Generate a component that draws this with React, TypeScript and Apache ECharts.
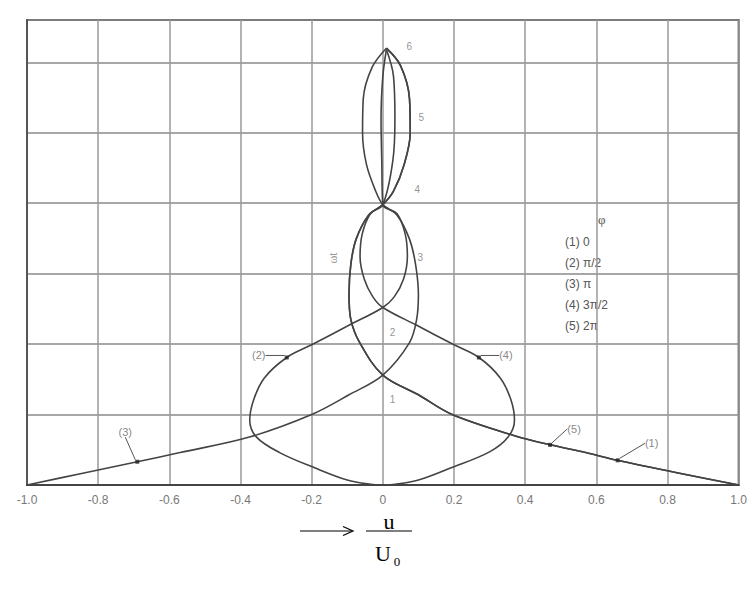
import React, { useEffect, useRef } from "react";
import * as echarts from "echarts";

// Phase curves in (u/U0, ωt) coordinates.
// φ = 0 (identical to φ = 2π)
const phi0: [number, number][] = [
  [0.01, 6.2], [0.05, 5.95], [0.075, 5.48], [0.077, 5.0], [0.06, 4.55], [0.03, 4.17],
  [0.0, 3.98], [-0.04, 3.83], [-0.075, 3.49], [-0.09, 3.13], [-0.095, 2.7], [-0.09, 2.35],
  [-0.065, 2.02], [0.0, 1.56], [0.1, 1.28], [0.195, 1.0], [0.37, 0.7], [0.47, 0.57],
  [0.57, 0.46], [0.66, 0.35], [0.83, 0.17], [1.0, 0.0],
];
// φ = π/2
const phiHalfPi: [number, number][] = [
  [0.01, 6.18], [0.0, 5.8], [-0.005, 5.2], [-0.003, 4.6], [0.0, 3.98], [0.04, 3.85],
  [0.063, 3.56], [0.069, 3.24], [0.058, 2.92], [0.032, 2.67], [0.0, 2.52], [-0.094, 2.27],
  [-0.2, 1.99], [-0.27, 1.81], [-0.333, 1.52], [-0.363, 1.21], [-0.374, 0.92], [-0.355, 0.68],
  [-0.29, 0.46], [-0.19, 0.24], [-0.1, 0.07], [-0.035, 0.01], [0.0, 0.0],
];
// φ = π
const phiPi: [number, number][] = [
  [0.01, 6.2], [-0.03, 5.93], [-0.055, 5.48], [-0.057, 5.0], [-0.046, 4.55], [-0.02, 4.17],
  [0.0, 3.98], [0.04, 3.83], [0.075, 3.49], [0.092, 3.13], [0.1, 2.7], [0.095, 2.35],
  [0.075, 2.02], [0.0, 1.56], [-0.095, 1.28], [-0.2, 1.0], [-0.375, 0.68], [-0.57, 0.46],
  [-0.69, 0.33], [-0.85, 0.16], [-1.0, 0.0],
];
// φ = 3π/2
const phi3HalfPi: [number, number][] = [
  [0.01, 6.18], [0.03, 5.8], [0.034, 5.2], [0.028, 4.6], [0.0, 3.98], [-0.035, 3.85],
  [-0.058, 3.56], [-0.064, 3.24], [-0.052, 2.92], [-0.028, 2.67], [0.0, 2.52], [0.094, 2.27],
  [0.2, 1.99], [0.27, 1.81], [0.33, 1.52], [0.36, 1.21], [0.37, 0.92], [0.352, 0.68],
  [0.3, 0.47], [0.19, 0.24], [0.1, 0.07], [0.035, 0.01], [0.0, 0.0],
];
// φ = 2π
const phi2Pi: [number, number][] = phi0;

// Curve tags and the points they mark
const curveTags = ["(3)", "(2)", "(4)", "(5)", "(1)"];
const tagPoints: [number, number][] = [
  [-0.69, 0.33], [-0.27, 1.81], [0.27, 1.81], [0.47, 0.57], [0.66, 0.35],
];

// Step numbers along the central axis
const stepLabels = ["1", "2", "3", "4", "5", "6"];
const stepPoints: [number, number][] = [
  [0.027, 1.21], [0.027, 2.16], [0.105, 3.23], [0.097, 4.2], [0.108, 5.22], [0.074, 6.22],
];

// Phase legend
const legendTitle = "φ";
const legendRows = ["(1) 0", "(2) π/2", "(3) π", "(4) 3π/2", "(5) 2π"];

// Label offsets (px) for the curve tags
const tagOffsets: [number, number][] = [[-12, -30], [-28, -2], [27, -2], [24, -16], [34, -17]];

const curveColor = "#444";

export default function App() {
  const ref = useRef<HTMLDivElement>(null);

  useEffect(() => {
    if (!ref.current) return;
    const chart = echarts.init(ref.current, undefined, { renderer: "svg" });

    const lineSeries = (name: string, data: [number, number][]) => ({
      name,
      type: "line",
      data,
      showSymbol: false,
      smooth: 0.35,
      lineStyle: { color: curveColor, width: 1.6 },
      z: 3,
    });

    const graphic: any[] = [];
    graphic.push({
      type: "text",
      left: 598,
      top: 213,
      style: { text: legendTitle, font: '13px "Liberation Serif"', fill: "#555" },
    });
    legendRows.forEach((t, i) => {
      graphic.push({
        type: "text",
        left: 565,
        top: 236 + i * 21,
        style: { text: t, font: '12px "Liberation Sans"', fill: "#555" },
      });
    });
    graphic.push({
      type: "text",
      x: 333,
      y: 258,
      rotation: Math.PI / 2,
      style: {
        text: "ωt",
        font: '12px "Liberation Serif"',
        fill: "#999",
        align: "center",
        verticalAlign: "middle",
      },
    });
    // Axis title: ⟶ u / U0
    graphic.push(
      { type: "line", shape: { x1: 300, y1: 531, x2: 352, y2: 531 }, style: { stroke: "#000", lineWidth: 1.2 } },
      { type: "polyline", shape: { points: [[343, 526.5], [353, 531], [343, 535.5]] }, style: { stroke: "#000", lineWidth: 1.2, fill: null } },
      {
        type: "text",
        x: 389,
        y: 528,
        style: {
          text: "u",
          font: '22px "Liberation Serif"',
          lineHeight: 14,
          fill: "#000",
          align: "center",
          verticalAlign: "bottom",
        },
      },
      { type: "line", shape: { x1: 366, y1: 531, x2: 412, y2: 531 }, style: { stroke: "#000", lineWidth: 1.2 } },
      {
        type: "text",
        x: 383,
        y: 553,
        style: { text: "U", font: '22px "Liberation Serif"', fill: "#000", align: "center", verticalAlign: "middle" },
      },
      {
        type: "text",
        x: 397,
        y: 561,
        style: { text: "0", font: '13px "Liberation Serif"', fill: "#000", align: "center", verticalAlign: "middle" },
      }
    );

    chart.setOption({
      animation: false,
      backgroundColor: "#fff",
      grid: {
        left: 27,
        right: 10,
        top: 20,
        bottom: 112,
        show: true,
        borderColor: "#555",
        borderWidth: 2,
      },
      xAxis: {
        type: "value",
        min: -1,
        max: 1,
        interval: 0.2,
        axisLine: { show: true, onZero: false, lineStyle: { color: "#444", width: 2 } },
        axisTick: { show: false },
        splitLine: { show: true, lineStyle: { color: "#9a9a9a", width: 1.5 } },
        axisLabel: {
          margin: 9,
          color: "#777",
          fontSize: 12,
          fontFamily: "Liberation Sans",
          showMinLabel: true,
          showMaxLabel: true,
          formatter: (v: number) => (Math.abs(v) < 1e-9 ? "0" : v.toFixed(1)),
        },
      },
      yAxis: {
        type: "value",
        min: 0,
        max: 6.6,
        interval: 1,
        axisLine: { show: true, onZero: false, lineStyle: { color: "#555", width: 2 } },
        axisTick: { show: false },
        axisLabel: { show: false },
        splitLine: { show: true, lineStyle: { color: "#8a8a8a", width: 1.5 } },
      },
      series: [
        lineSeries("φ = 0", phi0),
        lineSeries("φ = π/2", phiHalfPi),
        lineSeries("φ = π", phiPi),
        lineSeries("φ = 3π/2", phi3HalfPi),
        lineSeries("φ = 2π", phi2Pi),
        {
          type: "scatter",
          data: tagPoints.map((p, i) => ({ value: p, name: curveTags[i] })),
          symbol: "rect",
          symbolSize: 4,
          itemStyle: { color: "#222" },
          z: 5,
          label: {
            show: true,
            formatter: (p: any) => p.name,
            position: "inside",
            color: "#666",
            fontSize: 11,
            fontFamily: "Liberation Sans",
          },
          labelLayout: (p: any) => ({ dx: tagOffsets[p.dataIndex][0], dy: tagOffsets[p.dataIndex][1] }),
          labelLine: { show: true, lineStyle: { color: "#555", width: 1 } },
        },
        {
          type: "scatter",
          data: stepPoints.map((p, i) => ({ value: p, name: stepLabels[i] })),
          symbolSize: 0,
          z: 5,
          label: {
            show: true,
            formatter: (p: any) => p.name,
            position: "inside",
            color: "#777",
            fontSize: 10,
            fontFamily: "Liberation Sans",
          },
        },
      ],
      graphic,
    });

    return () => chart.dispose();
  }, []);

  return (
    <div
      ref={ref}
      style={{ position: "absolute", left: 0, top: 0, width: 750, height: 597, background: "#fff" }}
    />
  );
}
